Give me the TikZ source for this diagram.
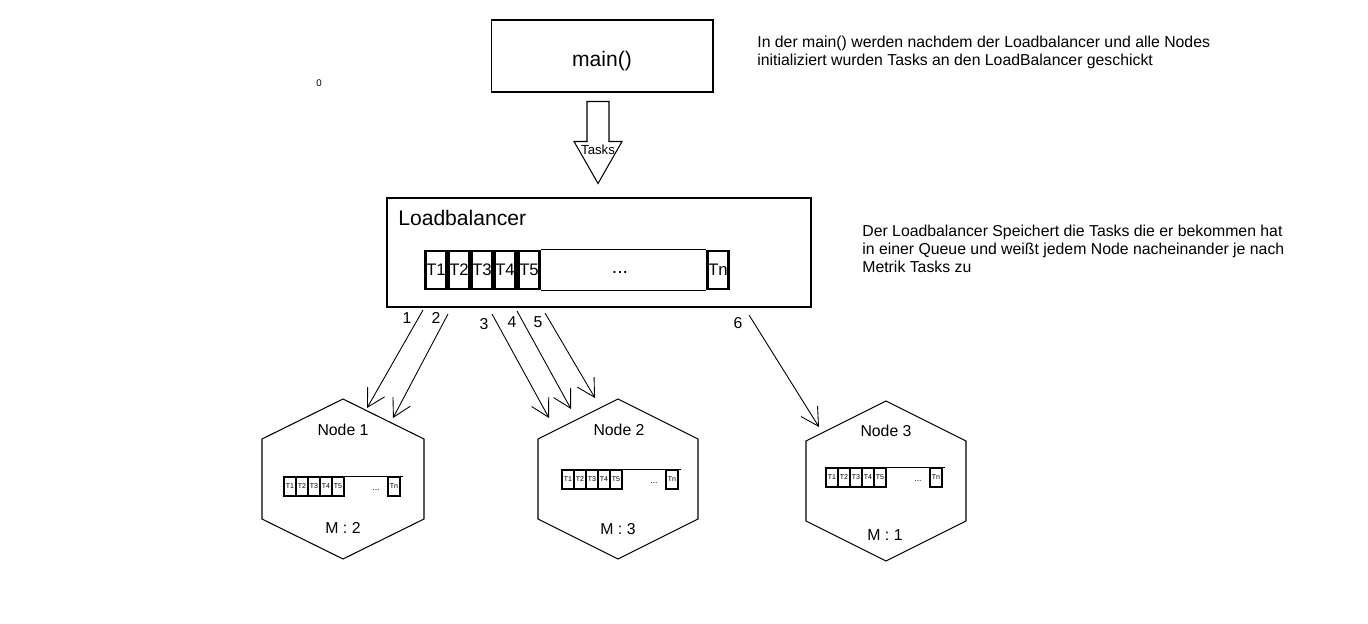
\documentclass[tikz,border=0pt]{standalone}
\usepackage{fontspec}
\setmainfont{Liberation Sans}
\usetikzlibrary{arrows.meta}

\tikzset{
    queuebox/.style={draw, line width=1.5pt, minimum width=0.42cm, minimum height=0.76cm, inner sep=0pt, font=\fontsize{9.5}{10}\selectfont},
    minibox/.style={draw, line width=0.8pt, minimum width=0.24cm, minimum height=0.38cm, inner sep=0pt, font=\fontsize{4}{4}\selectfont},
    hexagon/.style={draw, line width=0.6pt},
    sendarrow/.style={line width=0.5pt, -{Straight Barb[length=3.5mm, width=3.9mm]}},
    infotext/.style={anchor=north west, inner sep=0pt, align=left, font=\fontsize{9}{10.2}\selectfont},
    smalltext/.style={font=\fontsize{9}{10}\selectfont},
}

\begin{document}
\begin{tikzpicture}[x=0.02cm, y=-0.02cm]
    \useasboundingbox (0,0) rectangle (1368,624);

    % main and loadbalancer
    \node[draw, line width=0.6pt, minimum width=4.44cm, minimum height=1.44cm, text height=14pt, text depth=2.5pt, font=\fontsize{12}{14}\selectfont] (main) at (602,56) {main()};
    \node[draw, line width=1.5pt, minimum width=8.48cm, minimum height=2.18cm] (lb) at (599,252.5) {};
    \node[anchor=base west, inner sep=0pt, font=\fontsize{12}{14}\selectfont] (lbtitle) at (398,226) {Loadbalancer};
    \node[font=\fontsize{5.5}{6}\selectfont] (zero) at (319,83) {0};

    % Tasks arrow
    \draw[line width=0.6pt, fill=white] ([shift={(-15,9)}]main.south) -- ++(0,40) -- ++(-13,0) -- ++(24,42) -- ++(24,-42) -- ++(-13,0) -- ++(0,-40) -- cycle;
    \node[font=\fontsize{7.5}{8}\selectfont, inner sep=0pt] (tasks) at (598,150) {Tasks};

    % Queue in the loadbalancer
    \node[queuebox] (t1) at (436,270) {T1};
    \node[queuebox] (t2) at (459,270) {T2};
    \node[queuebox] (t3) at (482,270) {T3};
    \node[queuebox] (t4) at (505,270) {T4};
    \node[queuebox] (t5) at (529,270) {T5};
    \node[queuebox] (tn) at (718,270) {Tn};
    \draw[line width=0.6pt] (t5.north east) -- (tn.north west);
    \draw[line width=0.6pt] (t5.south east) -- (tn.south west);
    \node[font=\fontsize{11}{12}\selectfont] (dots) at (620,272) {...};

    % Nodes
    \coordinate (node1) at (343,479);
    \coordinate (node2) at (618,479);
    \coordinate (node3) at (886,481);
    \draw[hexagon] (node1) ++(0,-80) -- ++(81,40) -- ++(0,80) -- ++(-81,40) -- ++(-81,-40) -- ++(0,-80) -- cycle;
    \draw[hexagon] (node2) ++(0,-80) -- ++(80,40) -- ++(0,80) -- ++(-80,40) -- ++(-80,-40) -- ++(0,-80) -- cycle;
    \draw[hexagon] (node3) ++(0,-80) -- ++(80,40) -- ++(0,80) -- ++(-80,40) -- ++(-80,-40) -- ++(0,-80) -- cycle;
    \node[smalltext] (node1label) at (343,430) {Node 1};
    \node[smalltext] (node2label) at (619,430) {Node 2};
    \node[smalltext] (node3label) at (886,431) {Node 3};
    \node[smalltext] (node1metric) at (343,528) {M : 2};
    \node[smalltext] (node2metric) at (618,529) {M : 3};
    \node[smalltext] (node3metric) at (885,535) {M : 1};

    % Queues in the nodes
    \foreach \i/\qx/\qy in {1/284/477, 2/562/470, 3/826/468} {
        \foreach \k in {1,...,5}
            \node[minibox] (mini\i-\k) at (\qx+12*\k-6,\qy+9.5) {T\k};
        \node[minibox] (mini\i-n) at (\qx+110,\qy+9.5) {Tn};
        \draw[line width=0.6pt] (mini\i-5.north east) -- ([xshift=0.04cm]mini\i-n.north east);
        \node[font=\fontsize{5}{5}\selectfont, inner sep=0pt] (mini\i-dots) at (\qx+92,\qy+13) {...};
    }

    % Tasks sent to the nodes
    \coordinate (out1) at (423,310);
    \coordinate (out2) at (448,314);
    \coordinate (out3) at (492,314);
    \coordinate (out4) at (517,311);
    \coordinate (out5) at (545,313);
    \coordinate (out6) at (749,315);
    \coordinate (in1) at (367,408);
    \coordinate (in2) at (393,418);
    \coordinate (in3) at (549,418);
    \coordinate (in4) at (571,409);
    \coordinate (in5) at (595,398);
    \coordinate (in6) at (819,427);
    \draw[sendarrow] (out1) -- (in1);
    \draw[sendarrow] (out2) -- (in2);
    \draw[sendarrow] (out3) -- (in3);
    \draw[sendarrow] (out4) -- (in4);
    \draw[sendarrow] (out5) -- (in5);
    \draw[sendarrow] (out6) -- (in6);
    \node[smalltext] (label1) at (407,318) {1};
    \node[smalltext] (label2) at (436,318) {2};
    \node[smalltext] (label3) at (484,324) {3};
    \node[smalltext] (label4) at (512,322) {4};
    \node[smalltext] (label5) at (538,322) {5};
    \node[smalltext] (label6) at (738,323) {6};

    % Explanations
    \node[infotext] (maininfo) at (757,36) {In der main() werden nachdem der Loadbalancer und alle Nodes\\initializiert wurden Tasks an den LoadBalancer geschickt};
    \node[infotext] (lbinfo) at (862,225) {Der Loadbalancer Speichert die Tasks die er bekommen hat\\in einer Queue und weißt jedem Node nacheinander je nach\\Metrik Tasks zu};
\end{tikzpicture}
\end{document}
